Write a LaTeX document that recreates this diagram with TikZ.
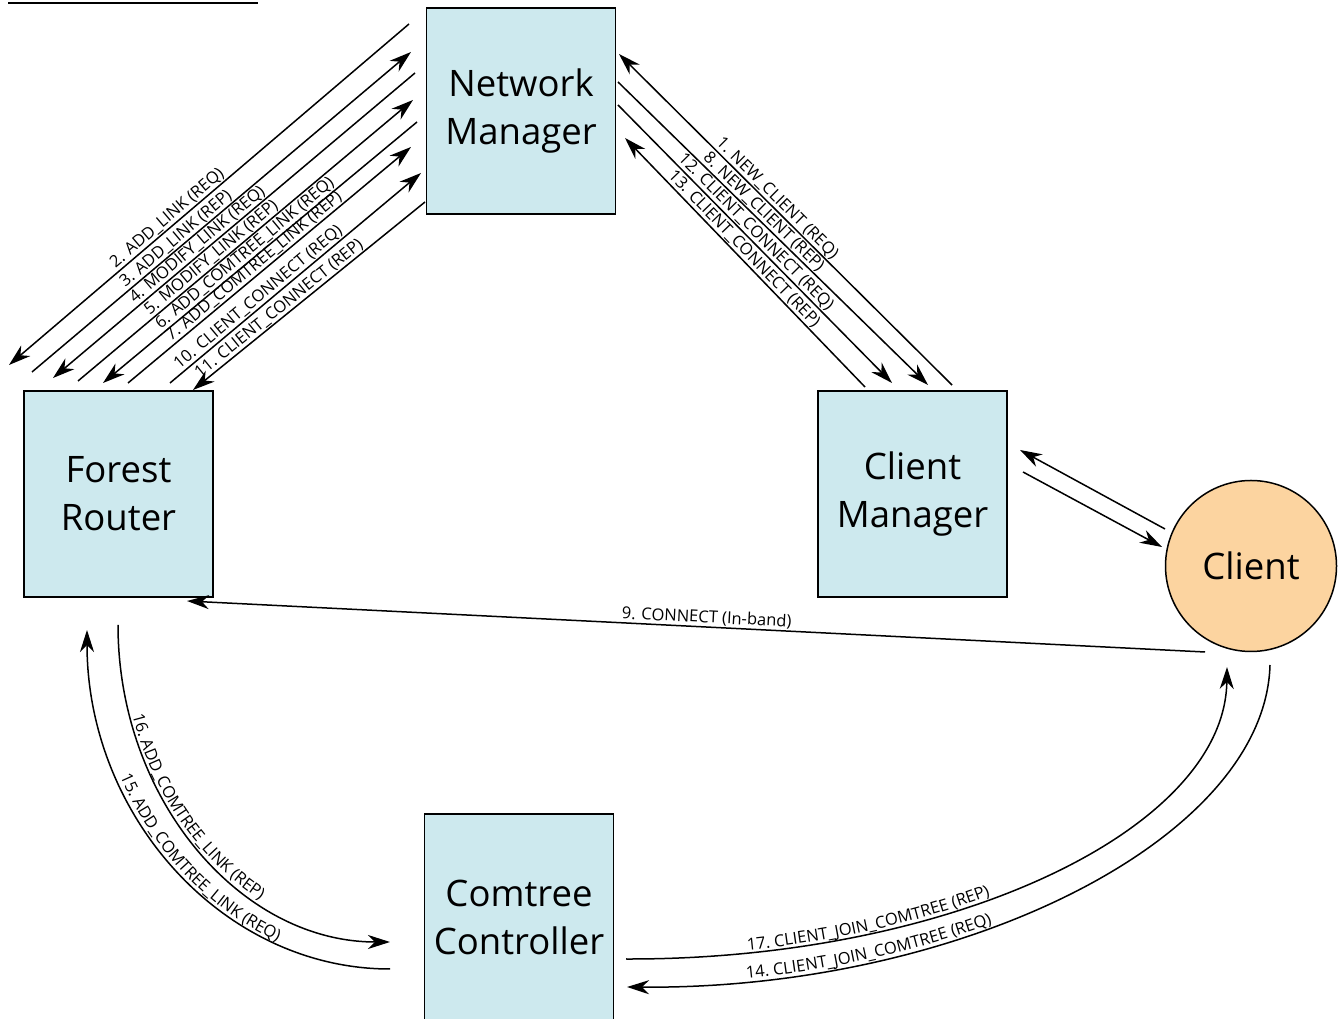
\documentclass[tikz,border=0pt]{standalone}
\usepackage{fontspec}
\setmainfont{Open Sans}
\usetikzlibrary{arrows.meta}
\usetikzlibrary{decorations.text}
\definecolor{kasten}{RGB}{205,233,238}
\definecolor{kreis}{RGB}{252,212,160}
\newcommand{\boxfont}{\fontsize{36.5}{48}\selectfont}
\newcommand{\lblfont}{\fontsize{16.5}{18}\selectfont}

\begin{document}
\begin{tikzpicture}[x=1pt, y=1pt, line width=1.5pt,
	>={Stealth[length=22pt, width=14pt, inset=7pt]},
	box/.style={draw, rectangle, fill=kasten, line width=1.5pt, minimum width=189pt, minimum height=206pt, align=center, font=\boxfont},
	lbl/.style={above, sloped, font=\lblfont, inner sep=0.8pt}]

	\useasboundingbox (0,0) rectangle (1340,1019);

	% Strich oben links
	\coordinate (U1) at (8,1016);
	\coordinate (U2) at (258,1016);
	\draw[line width=2pt] (U1) -- (U2);

	% Knoten
	\node[box] (NM) at (521,908) {Network\\Manager};
	\node[box] (FR) at (118.5,525) {Forest\\Router};
	\node[box] (CM) at (912.5,525) {Client\\Manager};
	\node[box] (CC) at (519,102) {Comtree\\Controller};
	\node[draw, circle, fill=kreis, line width=1.5pt, minimum size=171pt, font=\boxfont] (C) at (1251,453) {Client};

	% Forest Router -- Network Manager
	\coordinate (FR1) at (9,654);    \coordinate (NM1) at (409,995);
	\coordinate (FR2) at (32,647);   \coordinate (NM2) at (411,967);
	\coordinate (FR3) at (53,641);   \coordinate (NM3) at (415,946);
	\coordinate (FR4) at (78,638);   \coordinate (NM4) at (413,919);
	\coordinate (FR5) at (103,636);  \coordinate (NM5) at (417,897);
	\coordinate (FR6) at (128,636);  \coordinate (NM6) at (411,872);
	\coordinate (FR7) at (170,636);  \coordinate (NM7) at (421,846);
	\coordinate (FR8) at (193,629);  \coordinate (NM8) at (425,817);

	\draw[<-] (FR1) -- node[lbl, pos=.41] {2. ADD\_LINK (REQ)} (NM1);
	\draw[->] (FR2) -- node[lbl, pos=.395] {3. ADD\_LINK (REP)} (NM2);
	\draw[<-] (FR3) -- node[lbl, pos=.415] {4. MODIFY\_LINK (REQ)} (NM3);
	\draw[->] (FR4) -- node[lbl, pos=.415] {5. MODIFY\_LINK (REP)} (NM4);
	\draw[<-] (FR5) -- node[lbl, pos=.47] {6. ADD\_COMTREE\_LINK (REQ)} (NM5);
	\draw[->] (FR6) -- node[lbl, pos=.465] {7. ADD\_COMTREE\_LINK (REP)} (NM6);
	\draw[->] (FR7) -- node[lbl, pos=.375] {10. CLIENT\_CONNECT (REQ)} (NM7);
	\draw[<-] (FR8) -- node[lbl, pos=.395] {11. CLIENT\_CONNECT (REP)} (NM8);

	% Network Manager -- Client Manager
	\coordinate (NM9) at (619,965);  \coordinate (CM1) at (952,634);
	\coordinate (NM10) at (618,937); \coordinate (CM2) at (928,634);
	\coordinate (NM11) at (618,914); \coordinate (CM3) at (892,636);
	\coordinate (NM12) at (625,881); \coordinate (CM4) at (865,632);

	\draw[<-] (NM9) -- node[lbl, pos=.456] {1. NEW\_CLIENT (REQ)} (CM1);
	\draw[->] (NM10) -- node[lbl, pos=.45] {8. NEW\_CLIENT (REP)} (CM2);
	\draw[->] (NM11) -- node[lbl, pos=.48] {12. CLIENT\_CONNECT (REQ)} (CM3);
	\draw[<-] (NM12) -- node[lbl, pos=.47] {13. CLIENT\_CONNECT (REP)} (CM4);

	% Client Manager -- Client
	\coordinate (CM5) at (1020,569); \coordinate (C1) at (1165,490);
	\coordinate (CM6) at (1023,547); \coordinate (C2) at (1162,472);

	\draw[<-] (CM5) -- (C1);
	\draw[->] (CM6) -- (C2);

	% Client -- Forest Router
	\coordinate (FR9) at (187,418);  \coordinate (C3) at (1205,367);

	\draw[<-] (FR9) -- node[lbl, pos=.51] {9. CONNECT (In-band)} (C3);

	% Forest Router -- Comtree Controller
	\coordinate (FR10) at (118,394); \coordinate (CC1) at (390,77);
	\coordinate (FR11) at (87,389);  \coordinate (CC2) at (390,50);

	\draw[->] (FR10) .. controls (118,220) and (240,77) .. (CC1);
	\path[decorate, decoration={text along path, text={|\lblfont|16. ADD{\_}COMTREE{\_}LINK (REP)}, text align={left indent=92pt}, raise=3pt}]
		(FR10) .. controls (118,220) and (240,77) .. (CC1);
	\draw[<-] (FR11) .. controls (87,203) and (223,50) .. (CC2);
	\path[decorate, decoration={text along path, text={|\lblfont|15. ADD{\_}COMTREE{\_}LINK (REQ)}, text align={left indent=152pt}, raise=3pt}]
		(FR11) .. controls (87,203) and (223,50) .. (CC2);

	% Comtree Controller -- Client
	\coordinate (CC3) at (626,60);   \coordinate (C4) at (1227,352);
	\coordinate (CC4) at (627,32);   \coordinate (C5) at (1270,354);

	\draw[->] (CC3) .. controls (950,59) and (1225,189) .. (C4);
	\path[decorate, decoration={text along path, text={|\lblfont|17. CLIENT{\_}JOIN{\_}COMTREE (REP)}, text align={left indent=122pt}, raise=3pt}]
		(CC3) .. controls (950,59) and (1225,189) .. (C4);
	\draw[<-] (CC4) .. controls (960,29) and (1265,179) .. (C5);
	\path[decorate, decoration={text along path, text={|\lblfont|14. CLIENT{\_}JOIN{\_}COMTREE (REQ)}, text align={left indent=120pt}, raise=3pt}]
		(CC4) .. controls (960,29) and (1265,179) .. (C5);
\end{tikzpicture}
\end{document}
